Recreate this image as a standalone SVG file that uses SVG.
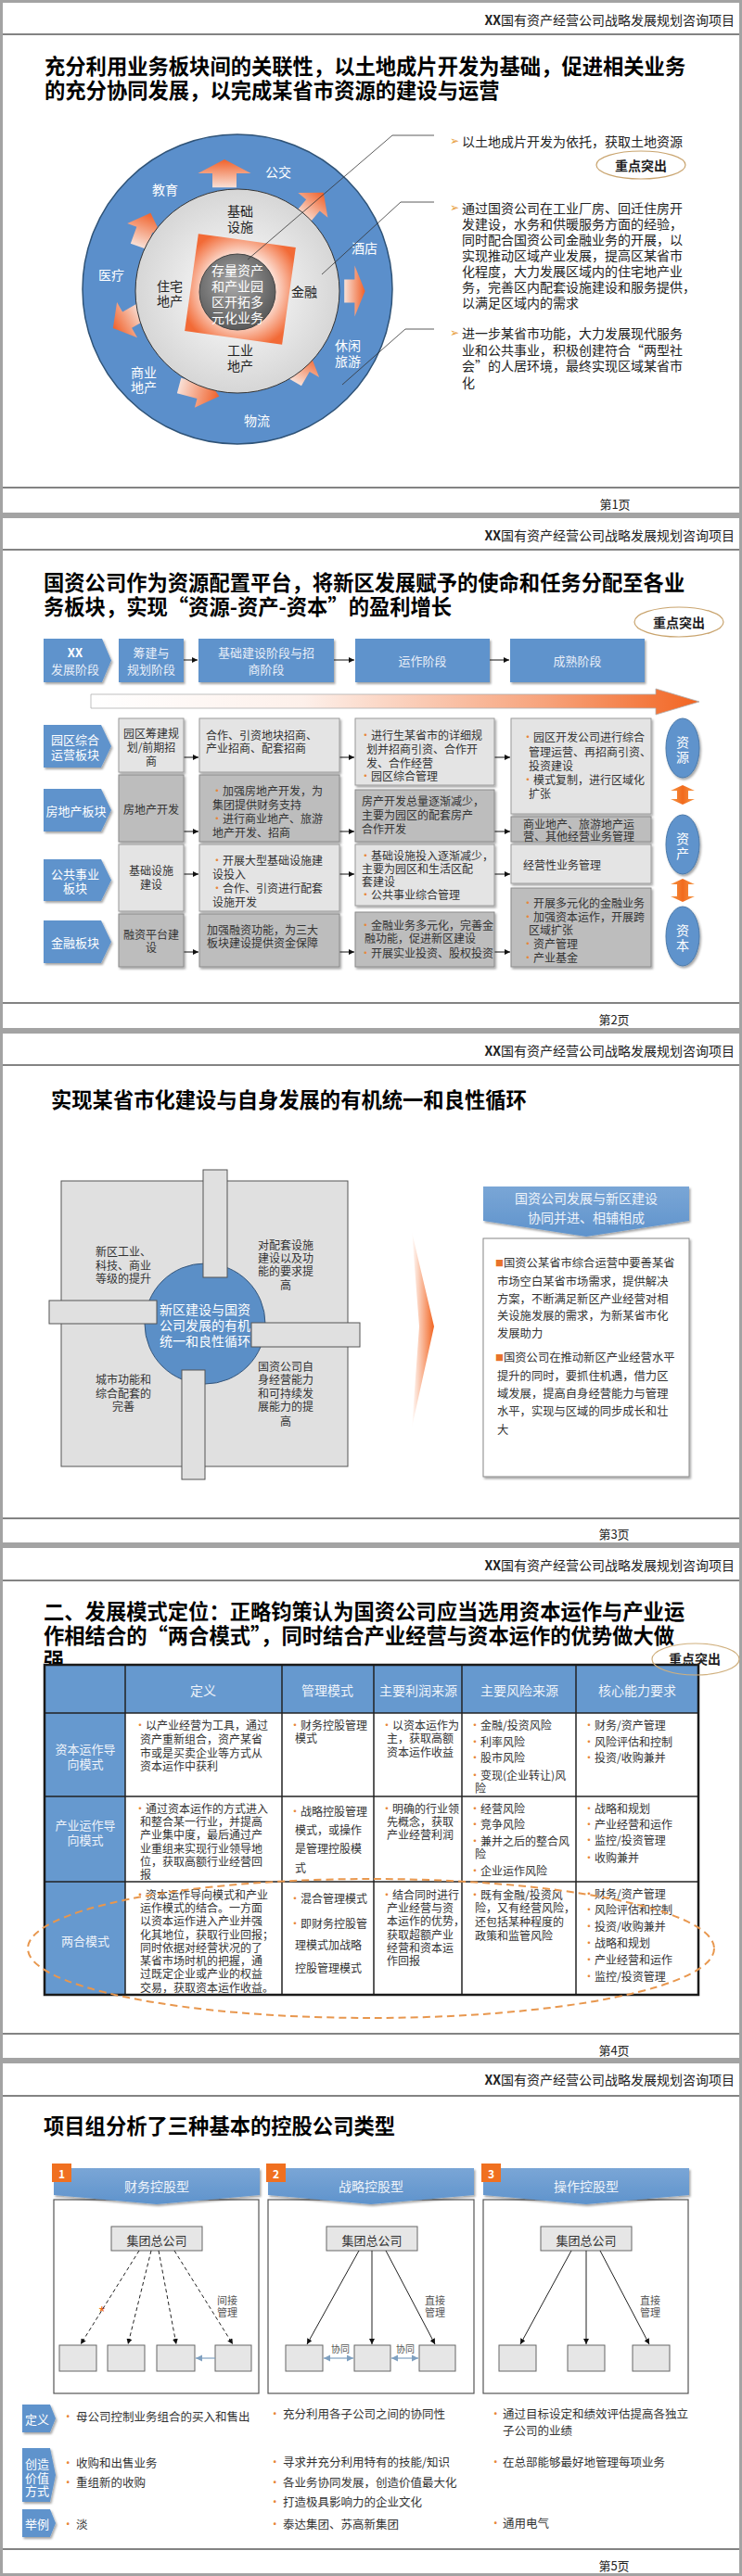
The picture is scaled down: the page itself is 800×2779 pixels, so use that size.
<svg xmlns="http://www.w3.org/2000/svg" width="800" height="2779" viewBox="0 0 800 2779">
<style>
text{font-family:"Noto Sans CJK SC","Liberation Sans",sans-serif;dominant-baseline:central}
.fr{fill:#fff;stroke:#a3a3a3;stroke-width:3}
.hl{stroke:#5a5a5a;stroke-width:1.5}
.hd{font-size:14px;fill:#222;text-anchor:end}
.ft{font-size:13px;fill:#222;text-anchor:middle}
.tt{font-size:22.3px;font-weight:700;fill:#000}
.c{text-anchor:middle}
.w{fill:#fff}
.k{fill:#222}
.f14{font-size:14px}
.f13{font-size:13px}
.f12{font-size:12px;fill:#333}
.f11{font-size:11px;fill:#555}
.bl{fill:#e8873a}
.blue{fill:#5f93cc}
.lb{fill:#e4e4e4;stroke:#9a9a9a;stroke-width:1;filter:url(#sh)}
.db{fill:#bdbdbd;stroke:#8a8a8a;stroke-width:1;filter:url(#sh)}
.ar{stroke:#111;stroke-width:1;marker-end:url(#ah)}
.key{fill:#fff;stroke:#c9a46e;stroke-width:1.2}
.tl{stroke:#222;stroke-width:1.5}
.con{fill:none;stroke:#333;stroke-width:0.8}
</style>
<defs>
<filter id="sh" x="-10%" y="-10%" width="125%" height="130%"><feDropShadow dx="1.5" dy="2" stdDeviation="1" flood-color="#000" flood-opacity="0.35"/></filter>
<marker id="ah" viewBox="0 0 10 10" refX="10" refY="5" markerWidth="6" markerHeight="6" orient="auto"><path d="M0,0 L10,5 L0,10 z" fill="#111"/></marker>
<marker id="ahb" viewBox="0 0 10 10" refX="10" refY="5" markerWidth="6" markerHeight="6" orient="auto-start-reverse"><path d="M0,0 L10,5 L0,10 z" fill="#7fa0c0"/></marker>
<radialGradient id="gIn" cx="0.5" cy="0.5" r="0.5"><stop offset="0" stop-color="#ffffff"/><stop offset="1" stop-color="#d6d6d6"/></radialGradient>
<radialGradient id="gCore" cx="0.45" cy="0.4" r="0.6"><stop offset="0" stop-color="#a8a8a8"/><stop offset="1" stop-color="#5a5a5a"/></radialGradient>
<radialGradient id="gSq" cx="0.5" cy="0.5" r="0.62"><stop offset="0.45" stop-color="#ffffff"/><stop offset="1" stop-color="#f26a36"/></radialGradient>
<linearGradient id="gArr" x1="0" y1="0" x2="1" y2="0"><stop offset="0" stop-color="#f9e0d6"/><stop offset="1" stop-color="#f0612a"/></linearGradient>
<linearGradient id="gBig" x1="0" y1="0" x2="1" y2="0"><stop offset="0" stop-color="#ffffff"/><stop offset="0.35" stop-color="#fdf0ea"/><stop offset="0.75" stop-color="#f7a27a"/><stop offset="1" stop-color="#f26522"/></linearGradient>
<linearGradient id="gDA" x1="0" y1="0" x2="1" y2="0"><stop offset="0" stop-color="#f59a4a"/><stop offset="0.5" stop-color="#f26a1c"/><stop offset="1" stop-color="#f59a4a"/></linearGradient>
<linearGradient id="gWedge" x1="0" y1="0" x2="1" y2="0"><stop offset="0" stop-color="#ffffff"/><stop offset="1" stop-color="#f26522"/></linearGradient>
<linearGradient id="gBan" x1="0" y1="0" x2="0" y2="1"><stop offset="0" stop-color="#7aa6d6"/><stop offset="1" stop-color="#5f93cc"/></linearGradient>
<path id="ba" d="M-14,-10 L2,-10 L2,-22 L18,0 L2,22 L2,10 L-14,10 Z"/>
</defs>

<!-- ============ SLIDE 1 ============ -->
<g id="slide1">
<rect class="fr" x="1.5" y="1.5" width="797" height="553"/>
<text class="hd" x="792" y="21"><tspan font-weight="700">XX</tspan>国有资产经营公司战略发展规划咨询项目</text>
<line class="hl" x1="3" y1="37" x2="797" y2="37"/>
<text class="tt" x="48" y="70">充分利用业务板块间的关联性，以土地成片开发为基础，促进相关业务</text>
<text class="tt" x="48" y="96">的充分协同发展，以完成某省市资源的建设与运营</text>
<line class="hl" x1="3" y1="526" x2="797" y2="526"/>
<text class="ft" x="663" y="543">第1页</text>

<g id="ring-outer">
<circle cx="256" cy="312" r="167" fill="#5b8fcb" stroke="#2f5377" stroke-width="1.5"/>
<text class="c w f14" x="300" y="185">公交</text>
<text class="c w f14" x="178" y="204">教育</text>
<text class="c w f14" x="393" y="267">酒店</text>
<text class="c w f14" x="120" y="296">医疗</text>
<text class="c w f14" x="375" y="372">休闲</text>
<text class="c w f14" x="375" y="389">旅游</text>
<text class="c w f14" x="155" y="401">商业</text>
<text class="c w f14" x="155" y="417">地产</text>
<text class="c w f14" x="277" y="453">物流</text>
</g>
<g id="ring-arrows" fill="url(#gArr)">
<use href="#ba" transform="translate(242,189) rotate(-90) scale(0.95,1.3)"/>
<use href="#ba" transform="translate(336,223) rotate(-50) scale(1.1,0.95)"/>
<use href="#ba" transform="translate(381,314) rotate(0) scale(0.7,1.25)"/>
<use href="#ba" transform="translate(324,398) rotate(-60) scale(1.1,1)"/>
<use href="#ba" transform="translate(212,421) rotate(15) scale(1.4,0.85)"/>
<use href="#ba" transform="translate(139,344) rotate(150) scale(1.1,1)"/>
<use href="#ba" transform="translate(155,250) rotate(-70) scale(1.2,0.9)"/>
</g>
<g id="ring-inner">
<circle cx="256" cy="314" r="110" fill="url(#gIn)" stroke="#333" stroke-width="1"/>
<rect x="206" y="259" width="106" height="106" fill="url(#gSq)" transform="rotate(8 259 312)"/>
<text class="c k f14" x="259" y="227">基础</text>
<text class="c k f14" x="259" y="244">设施</text>
<text class="c k f14" x="183" y="308">住宅</text>
<text class="c k f14" x="183" y="324">地产</text>
<text class="c k f14" x="328" y="314">金融</text>
<text class="c k f14" x="259" y="377">工业</text>
<text class="c k f14" x="259" y="394">地产</text>
</g>
<g id="core">
<circle cx="256" cy="315" r="41" fill="url(#gCore)" stroke="#444" stroke-width="1"/>
<text class="c w f14" x="256" y="291">存量资产</text>
<text class="c w f14" x="256" y="308">和产业园</text>
<text class="c w f14" x="256" y="325">区开拓多</text>
<text class="c w f14" x="256" y="342">元化业务</text>
</g>
<g id="s1-connectors">
<polyline class="con" points="267,280 423,146 468,146"/>
<polyline class="con" points="347,296 432,218 468,218"/>
<polyline class="con" points="369,415 437,355 468,355"/>
</g>
<g id="s1-text" class="f14">
<text x="485" y="152"><tspan font-family="DejaVu Sans" fill="#e8a040" font-size="12">➢</tspan></text>
<text class="k" x="498" y="152">以土地成片开发为依托，获取土地资源</text>
<text x="485" y="224"><tspan font-family="DejaVu Sans" fill="#e8a040" font-size="12">➢</tspan></text>
<text class="k" x="498" y="224">通过国资公司在工业厂房、回迁住房开</text>
<text class="k" x="498" y="241">发建设，水务和供暖服务方面的经验，</text>
<text class="k" x="498" y="258">同时配合国资公司金融业务的开展，以</text>
<text class="k" x="498" y="275">实现推动区域产业发展，提高区某省市</text>
<text class="k" x="498" y="292">化程度，大力发展区域内的住宅地产业</text>
<text class="k" x="498" y="309">务，完善区内配套设施建设和服务提供，</text>
<text class="k" x="498" y="326">以满足区域内的需求</text>
<text x="485" y="359"><tspan font-family="DejaVu Sans" fill="#e8a040" font-size="12">➢</tspan></text>
<text class="k" x="498" y="359">进一步某省市功能，大力发展现代服务</text>
<text class="k" x="498" y="377">业和公共事业，积极创建符合“两型社</text>
<text class="k" x="498" y="394">会”的人居环境，最终实现区域某省市</text>
<text class="k" x="498" y="412">化</text>
</g>
<g id="s1-key">
<ellipse class="key" cx="691" cy="178" rx="48" ry="15"/>
<text class="c k f14" x="691" y="178" font-weight="700">重点突出</text>
</g>
</g>

<!-- ============ SLIDE 2 ============ -->
<g id="slide2">
<rect class="fr" x="1.5" y="557.5" width="797" height="553"/>
<text class="hd" x="792" y="577"><tspan font-weight="700">XX</tspan>国有资产经营公司战略发展规划咨询项目</text>
<line class="hl" x1="3" y1="593" x2="797" y2="593"/>
<text class="tt" x="47" y="627">国资公司作为资源配置平台，将新区发展赋予的使命和任务分配至各业</text>
<text class="tt" x="47" y="653">务板块，实现“资源-资产-资本”的盈利增长</text>
<line class="hl" x1="3" y1="1082" x2="797" y2="1082"/>
<text class="ft" x="662" y="1099">第2页</text>
<g id="s2-key">
<ellipse class="key" cx="732" cy="671" rx="48" ry="16"/>
<text class="c k f14" x="732" y="671" font-weight="700">重点突出</text>
</g>

<g id="phases" class="f13">
<path d="M47,689 H110 L120,712.5 L110,736 H47 Z" class="blue" filter="url(#sh)"/>
<text class="c w" x="81" y="703" font-weight="700">XX</text>
<text class="c" x="81" y="721" fill="#e8eef8">发展阶段</text>
<rect x="128" y="689" width="70" height="47" class="blue" filter="url(#sh)"/>
<text class="c" x="163" y="703" fill="#e8eef8">筹建与</text>
<text class="c" x="163" y="721" fill="#e8eef8">规划阶段</text>
<rect x="214" y="689" width="146" height="47" class="blue" filter="url(#sh)"/>
<text class="c" x="287" y="703" fill="#e8eef8">基础建设阶段与招</text>
<text class="c" x="287" y="721" fill="#e8eef8">商阶段</text>
<rect x="383" y="689" width="145" height="47" class="blue" filter="url(#sh)"/>
<text class="c" x="455.5" y="712" fill="#e8eef8">运作阶段</text>
<rect x="550" y="689" width="145" height="47" class="blue" filter="url(#sh)"/>
<text class="c" x="622.5" y="712" fill="#e8eef8">成熟阶段</text>
</g>
<g id="s2-connectors">
<line class="ar" x1="198" y1="712" x2="213" y2="712"/>
<line class="ar" x1="360" y1="712" x2="382" y2="712"/>
<line class="ar" x1="528" y1="712" x2="549" y2="712"/>
<line class="ar" x1="198" y1="817" x2="214" y2="817"/>
<line class="ar" x1="366" y1="817" x2="382" y2="817"/>
<line class="ar" x1="533" y1="817" x2="550" y2="817"/>
<line class="ar" x1="198" y1="897" x2="214" y2="897"/>
<line class="ar" x1="366" y1="897" x2="382" y2="897"/>
<line class="ar" x1="533" y1="897" x2="550" y2="897"/>
<line class="ar" x1="198" y1="943" x2="214" y2="943"/>
<line class="ar" x1="366" y1="943" x2="382" y2="943"/>
<line class="ar" x1="533" y1="943" x2="550" y2="943"/>
<line class="ar" x1="198" y1="1027" x2="214" y2="1027"/>
<line class="ar" x1="366" y1="1027" x2="382" y2="1027"/>
<line class="ar" x1="533" y1="1027" x2="550" y2="1027"/>
</g>
<path id="timeline" d="M98,749 H707 V743 L754,757 L707,771 V764 H98 Z" fill="url(#gBig)" stroke="#b0b0b0" stroke-width="0.8"/>

<g id="row1">
<path d="M47,782 H109 L120,805 L109,828 H47 Z" class="blue" filter="url(#sh)"/>
<text class="c w f13" x="81" y="797">园区综合</text>
<text class="c w f13" x="81" y="813">运营板块</text>
<rect class="lb" x="128" y="775" width="70" height="58"/>
<text class="c f12" x="163" y="790">园区筹建规</text>
<text class="c f12" x="163" y="805">划/前期招</text>
<text class="c f12" x="163" y="820">商</text>
<rect class="lb" x="215" y="775" width="151" height="58"/>
<text class="f12" x="222" y="792">合作、引资地块招商、</text>
<text class="f12" x="222" y="806">产业招商、配套招商</text>
<rect class="lb" x="383" y="775" width="150" height="72"/>
<text class="f12" x="388" y="792"><tspan class="bl">•</tspan>进行生某省市的详细规</text>
<text class="f12" x="395" y="807">划并招商引资、合作开</text>
<text class="f12" x="395" y="822">发、合作经营</text>
<text class="f12" x="388" y="836"><tspan class="bl">•</tspan>园区综合管理</text>
<rect class="lb" x="551" y="775" width="151" height="103"/>
<text class="f12" x="563" y="794"><tspan class="bl">•</tspan>园区开发公司进行综合</text>
<text class="f12" x="570" y="810">管理运营、再招商引资、</text>
<text class="f12" x="570" y="825">投资建设</text>
<text class="f12" x="563" y="840"><tspan class="bl">•</tspan>模式复制，进行区域化</text>
<text class="f12" x="570" y="855">扩张</text>
</g>
<g id="row2">
<path d="M47,851 H109 L120,874 L109,897 H47 Z" class="blue" filter="url(#sh)"/>
<text class="c w f13" x="82" y="874">房地产板块</text>
<rect class="db" x="128" y="836" width="70" height="72"/>
<text class="c f12" x="163" y="872">房地产开发</text>
<rect class="db" x="215" y="836" width="151" height="72"/>
<text class="f12" x="228" y="852"><tspan class="bl">•</tspan>加强房地产开发，为</text>
<text class="f12" x="229" y="867">集团提供财务支持</text>
<text class="f12" x="228" y="882"><tspan class="bl">•</tspan>进行商业地产、旅游</text>
<text class="f12" x="229" y="897">地产开发、招商</text>
<rect class="db" x="383" y="852" width="150" height="56"/>
<text class="f12" x="390" y="863">房产开发总量逐渐减少，</text>
<text class="f12" x="390" y="878">主要为园区的配套房产</text>
<text class="f12" x="390" y="893">合作开发</text>
<rect class="db" x="551" y="881" width="151" height="27"/>
<text class="f12" x="564" y="888">商业地产、旅游地产运</text>
<text class="f12" x="564" y="901">营、其他经营业务管理</text>
</g>
<g id="row3">
<path d="M47,927 H109 L120,949.5 L109,972 H47 Z" class="blue" filter="url(#sh)"/>
<text class="c w f13" x="81" y="942">公共事业</text>
<text class="c w f13" x="81" y="957">板块</text>
<rect class="lb" x="128" y="911" width="70" height="72"/>
<text class="c f12" x="163" y="938">基础设施</text>
<text class="c f12" x="163" y="953">建设</text>
<rect class="lb" x="215" y="911" width="151" height="72"/>
<text class="f12" x="228" y="927"><tspan class="bl">•</tspan>开展大型基础设施建</text>
<text class="f12" x="229" y="942">设投入</text>
<text class="f12" x="228" y="957"><tspan class="bl">•</tspan>合作、引资进行配套</text>
<text class="f12" x="229" y="972">设施开发</text>
<rect class="lb" x="383" y="911" width="150" height="66"/>
<text class="f12" x="388" y="922"><tspan class="bl">•</tspan>基础设施投入逐渐减少，</text>
<text class="f12" x="390" y="936">主要为园区和生活区配</text>
<text class="f12" x="390" y="950">套建设</text>
<text class="f12" x="388" y="964"><tspan class="bl">•</tspan>公共事业综合管理</text>
<rect class="lb" x="551" y="911" width="151" height="42"/>
<text class="f12" x="564" y="932">经营性业务管理</text>
</g>
<g id="row4">
<path d="M47,993 H109 L120,1016 L109,1039 H47 Z" class="blue" filter="url(#sh)"/>
<text class="c w f13" x="81" y="1016">金融板块</text>
<rect class="db" x="128" y="986" width="70" height="57"/>
<text class="c f12" x="163" y="1007">融资平台建</text>
<text class="c f12" x="163" y="1021">设</text>
<rect class="db" x="215" y="986" width="151" height="57"/>
<text class="f12" x="223" y="1002">加强融资功能，为三大</text>
<text class="f12" x="223" y="1016">板块建设提供资金保障</text>
<rect class="db" x="383" y="984" width="150" height="59"/>
<text class="f12" x="388" y="997"><tspan class="bl">•</tspan>金融业务多元化，完善金</text>
<text class="f12" x="393" y="1011">融功能，促进新区建设</text>
<text class="f12" x="388" y="1027"><tspan class="bl">•</tspan>开展实业投资、股权投资</text>
<rect class="db" x="551" y="958" width="151" height="85"/>
<text class="f12" x="563" y="973"><tspan class="bl">•</tspan>开展多元化的金融业务</text>
<text class="f12" x="563" y="988"><tspan class="bl">•</tspan>加强资本运作，开展跨</text>
<text class="f12" x="570" y="1002">区域扩张</text>
<text class="f12" x="563" y="1017"><tspan class="bl">•</tspan>资产管理</text>
<text class="f12" x="563" y="1032"><tspan class="bl">•</tspan>产业基金</text>
</g>
<g id="capital">
<ellipse cx="736" cy="807" rx="18" ry="32" class="blue" stroke="#4a78a8" filter="url(#sh)"/>
<text class="c w f14" x="736" y="800">资</text>
<text class="c w f14" x="736" y="816">源</text>
<path d="M723,853 L736,847 L749,853 H742 V862 H749 L736,868 L723,862 H730 V853 Z" fill="url(#gDA)"/>
<ellipse cx="736" cy="911" rx="18" ry="32" class="blue" stroke="#4a78a8" filter="url(#sh)"/>
<text class="c w f14" x="736" y="904">资</text>
<text class="c w f14" x="736" y="920">产</text>
<path d="M723,954 L736,948 L749,954 H742 V967 H749 L736,973 L723,967 H730 V954 Z" fill="url(#gDA)"/>
<ellipse cx="736" cy="1010" rx="18" ry="32" class="blue" stroke="#4a78a8" filter="url(#sh)"/>
<text class="c w f14" x="736" y="1003">资</text>
<text class="c w f14" x="736" y="1019">本</text>
</g>
</g>

<!-- ============ SLIDE 3 ============ -->
<g id="slide3">
<rect class="fr" x="1.5" y="1113.5" width="797" height="552"/>
<text class="hd" x="792" y="1133"><tspan font-weight="700">XX</tspan>国有资产经营公司战略发展规划咨询项目</text>
<line class="hl" x1="3" y1="1149" x2="797" y2="1149"/>
<text class="tt" x="55" y="1185">实现某省市化建设与自身发展的有机统一和良性循环</text>
<line class="hl" x1="3" y1="1638" x2="797" y2="1638"/>
<text class="ft" x="662" y="1654">第3页</text>
<g id="cycle">
<rect x="66" y="1274" width="309" height="308" fill="#e0e0e0" stroke="#555" stroke-width="1"/>
<circle cx="221" cy="1428" r="65" fill="#5b8fc7" stroke="#34557a" stroke-width="1"/>
<rect x="219" y="1262" width="26" height="116" fill="#e0e0e0" stroke="#555" stroke-width="1"/>
<rect x="53" y="1403" width="116" height="25" fill="#e0e0e0" stroke="#555" stroke-width="1"/>
<rect x="271" y="1427" width="117" height="26" fill="#e0e0e0" stroke="#555" stroke-width="1"/>
<rect x="196" y="1478" width="25" height="118" fill="#e0e0e0" stroke="#555" stroke-width="1"/>
<text class="c w f14" x="221" y="1412">新区建设与国资</text>
<text class="c w f14" x="221" y="1429">公司发展的有机</text>
<text class="c w f14" x="221" y="1446">统一和良性循环</text>
<g class="f12" fill="#444">
<text class="c f12" x="133" y="1349">新区工业、</text>
<text class="c f12" x="133" y="1364">科技、商业</text>
<text class="c f12" x="133" y="1378">等级的提升</text>
<text class="c f12" x="308" y="1342">对配套设施</text>
<text class="c f12" x="308" y="1356">建设以及功</text>
<text class="c f12" x="308" y="1370">能的要求提</text>
<text class="c f12" x="308" y="1385">高</text>
<text class="c f12" x="133" y="1487">城市功能和</text>
<text class="c f12" x="133" y="1502">综合配套的</text>
<text class="c f12" x="133" y="1516">完善</text>
<text class="c f12" x="308" y="1473">国资公司自</text>
<text class="c f12" x="308" y="1487">身经营能力</text>
<text class="c f12" x="308" y="1502">和可持续发</text>
<text class="c f12" x="308" y="1516">展能力的提</text>
<text class="c f12" x="308" y="1532">高</text>
</g>
</g>
<path id="wedge" d="M444,1329 L468,1431 L444,1540 L452,1431 Z" fill="url(#gWedge)"/>
<g id="s3-banner">
<path d="M521,1280 H743 V1317 L632,1334 L521,1317 Z" fill="url(#gBan)" filter="url(#sh)"/>
<text class="c f14" x="632" y="1292" fill="#eef3fa">国资公司发展与新区建设</text>
<text class="c f14" x="632" y="1313" fill="#eef3fa">协同并进、相辅相成</text>
</g>
<g id="s3-box">
<rect x="521" y="1336" width="222" height="257" fill="#fff" stroke="#888" stroke-width="1" filter="url(#sh)"/>
<g font-size="12.3" fill="#333">
<text x="534" y="1362"><tspan fill="#e8732a" font-size="9">■</tspan>国资公某省市综合运营中要善某省</text>
<text x="536" y="1382">市场空白某省市场需求，提供解决</text>
<text x="536" y="1401">方案，不断满足新区产业经营对相</text>
<text x="536" y="1419">关设施发展的需求，为新某省市化</text>
<text x="536" y="1438">发展助力</text>
<text x="534" y="1464"><tspan fill="#e8732a" font-size="9">■</tspan>国资公司在推动新区产业经营水平</text>
<text x="536" y="1484">提升的同时，要抓住机遇，借力区</text>
<text x="536" y="1503">域发展，提高自身经营能力与管理</text>
<text x="536" y="1522">水平，实现与区域的同步成长和壮</text>
<text x="536" y="1542">大</text>
</g>
</g>
</g>

<!-- ============ SLIDE 4 ============ -->
<g id="slide4">
<rect class="fr" x="1.5" y="1668.5" width="797" height="553"/>
<text class="hd" x="792" y="1688"><tspan font-weight="700">XX</tspan>国有资产经营公司战略发展规划咨询项目</text>
<line class="hl" x1="3" y1="1705" x2="797" y2="1705"/>
<text class="tt" x="47" y="1737" font-size="22.6">二、发展模式定位：正略钧策认为国资公司应当选用资本运作与产业运</text>
<text class="tt" x="47" y="1763" font-size="22.6">作相结合的“两合模式”，同时结合产业经营与资本运作的优势做大做</text>
<text class="tt" x="47" y="1789" font-size="22.6">强</text>
<line class="hl" x1="3" y1="2194" x2="797" y2="2194"/>
<text class="ft" x="662" y="2211">第4页</text>
<g id="table">
<rect x="48" y="1796" width="705" height="356" fill="#fff"/>
<rect x="48" y="1796" width="705" height="52" fill="#6699cf"/>
<rect x="48" y="1848" width="87" height="304" fill="#6699cf"/>
<line class="tl" x1="48" y1="1848" x2="753" y2="1848"/>
<line class="tl" x1="48" y1="1938" x2="753" y2="1938"/>
<line class="tl" x1="48" y1="2030" x2="753" y2="2030"/>
<line class="tl" x1="135" y1="1796" x2="135" y2="2152"/>
<line class="tl" x1="304" y1="1796" x2="304" y2="2152"/>
<line class="tl" x1="403" y1="1796" x2="403" y2="2152"/>
<line class="tl" x1="498" y1="1796" x2="498" y2="2152"/>
<line class="tl" x1="621" y1="1796" x2="621" y2="2152"/>
<rect x="48" y="1796" width="705" height="356" fill="none" stroke="#1a1a1a" stroke-width="2.5"/>
<g class="f14" fill="#eef3fa">
<text class="c" x="219" y="1823">定义</text>
<text class="c" x="353" y="1823">管理模式</text>
<text class="c" x="451" y="1823">主要利润来源</text>
<text class="c" x="560" y="1823">主要风险来源</text>
<text class="c" x="687" y="1823">核心能力要求</text>
</g>
<g font-size="13" fill="#eef3fa">
<text class="c" x="92" y="1886">资本运作导</text>
<text class="c" x="92" y="1902">向模式</text>
<text class="c" x="92" y="1968">产业运作导</text>
<text class="c" x="92" y="1984">向模式</text>
<text class="c" x="92" y="2093">两合模式</text>
</g>
<g class="f12">
<text class="f12" x="145" y="1860"><tspan class="bl">•</tspan>以产业经营为工具，通过</text>
<text class="f12" x="151" y="1875">资产重新组合，资产某省</text>
<text class="f12" x="151" y="1890">市或是买卖企业等方式从</text>
<text class="f12" x="151" y="1904">资本运作中获利</text>
<text class="f12" x="312" y="1860"><tspan class="bl">•</tspan>财务控股管理</text>
<text class="f12" x="318" y="1874">模式</text>
<text class="f12" x="411" y="1860"><tspan class="bl">•</tspan>以资本运作为</text>
<text class="f12" x="417" y="1874">主，获取高额</text>
<text class="f12" x="417" y="1889">资本运作收益</text>
<text class="f12" x="506" y="1860"><tspan class="bl">•</tspan>金融/投资风险</text>
<text class="f12" x="506" y="1878"><tspan class="bl">•</tspan>利率风险</text>
<text class="f12" x="506" y="1895"><tspan class="bl">•</tspan>股市风险</text>
<text class="f12" x="506" y="1914"><tspan class="bl">•</tspan>变现(企业转让)风</text>
<text class="f12" x="512" y="1928">险</text>
<text class="f12" x="629" y="1860"><tspan class="bl">•</tspan>财务/资产管理</text>
<text class="f12" x="629" y="1878"><tspan class="bl">•</tspan>风险评估和控制</text>
<text class="f12" x="629" y="1895"><tspan class="bl">•</tspan>投资/收购兼并</text>

<text class="f12" x="145" y="1950"><tspan class="bl">•</tspan>通过资本运作的方式进入</text>
<text class="f12" x="151" y="1964">和整合某一行业，并提高</text>
<text class="f12" x="151" y="1978">产业集中度，最后通过产</text>
<text class="f12" x="151" y="1993">业重组来实现行业领导地</text>
<text class="f12" x="151" y="2007">位，获取高额行业经营回</text>
<text class="f12" x="151" y="2021">报</text>
<text class="f12" x="312" y="1953"><tspan class="bl">•</tspan>战略控股管理</text>
<text class="f12" x="318" y="1973">模式，或操作</text>
<text class="f12" x="318" y="1993">是管理控股模</text>
<text class="f12" x="318" y="2014">式</text>
<text class="f12" x="411" y="1950"><tspan class="bl">•</tspan>明确的行业领</text>
<text class="f12" x="417" y="1964">先概念，获取</text>
<text class="f12" x="417" y="1978">产业经营利润</text>
<text class="f12" x="506" y="1950"><tspan class="bl">•</tspan>经营风险</text>
<text class="f12" x="506" y="1967"><tspan class="bl">•</tspan>竞争风险</text>
<text class="f12" x="506" y="1985"><tspan class="bl">•</tspan>兼并之后的整合风</text>
<text class="f12" x="512" y="1999">险</text>
<text class="f12" x="506" y="2017"><tspan class="bl">•</tspan>企业运作风险</text>
<text class="f12" x="629" y="1950"><tspan class="bl">•</tspan>战略和规划</text>
<text class="f12" x="629" y="1967"><tspan class="bl">•</tspan>产业经营和运作</text>
<text class="f12" x="629" y="1984"><tspan class="bl">•</tspan>监控/投资管理</text>
<text class="f12" x="629" y="2003"><tspan class="bl">•</tspan>收购兼并</text>

<text class="f12" x="145" y="2043"><tspan class="bl">•</tspan>资本运作导向模式和产业</text>
<text class="f12" x="151" y="2057">运作模式的结合。一方面</text>
<text class="f12" x="151" y="2071">以资本运作进入产业并强</text>
<text class="f12" x="151" y="2086">化其地位，获取行业回报；</text>
<text class="f12" x="151" y="2100">同时依据对经营状况的了</text>
<text class="f12" x="151" y="2114">某省市场时机的把握，通</text>
<text class="f12" x="151" y="2128">过既定企业或产业的权益</text>
<text class="f12" x="151" y="2143">交易，获取资本运作收益。</text>
<text class="f12" x="312" y="2047"><tspan class="bl">•</tspan>混合管理模式</text>
<text class="f12" x="312" y="2074"><tspan class="bl">•</tspan>即财务控股管</text>
<text class="f12" x="318" y="2097">理模式加战略</text>
<text class="f12" x="318" y="2122">控股管理模式</text>
<text class="f12" x="411" y="2043"><tspan class="bl">•</tspan>结合同时进行</text>
<text class="f12" x="417" y="2057">产业经营与资</text>
<text class="f12" x="417" y="2071">本运作的优势，</text>
<text class="f12" x="417" y="2086">获取超额产业</text>
<text class="f12" x="417" y="2100">经营和资本运</text>
<text class="f12" x="417" y="2114">作回报</text>
<text class="f12" x="506" y="2043"><tspan class="bl">•</tspan>既有金融/投资风</text>
<text class="f12" x="512" y="2057">险，又有经营风险，</text>
<text class="f12" x="512" y="2072">还包括某种程度的</text>
<text class="f12" x="512" y="2087">政策和监管风险</text>
<text class="f12" x="629" y="2042"><tspan class="bl">•</tspan>财务/资产管理</text>
<text class="f12" x="629" y="2059"><tspan class="bl">•</tspan>风险评估和控制</text>
<text class="f12" x="629" y="2077"><tspan class="bl">•</tspan>投资/收购兼并</text>
<text class="f12" x="629" y="2095"><tspan class="bl">•</tspan>战略和规划</text>
<text class="f12" x="629" y="2113"><tspan class="bl">•</tspan>产业经营和运作</text>
<text class="f12" x="629" y="2131"><tspan class="bl">•</tspan>监控/投资管理</text>
</g>
</g>
<ellipse id="highlight" cx="400" cy="2102" rx="370" ry="75" fill="none" stroke="#e8974e" stroke-width="2" stroke-dasharray="8 5"/>
<g id="s4-key">
<ellipse cx="750" cy="1790" rx="47" ry="17" fill="none" stroke="#d0b07e" stroke-width="1.2"/>
<text class="c k f14" x="749" y="1789" font-weight="700">重点突出</text>
</g>
</g>

<!-- ============ SLIDE 5 ============ -->
<g id="slide5">
<rect class="fr" x="1.5" y="2224.5" width="797" height="553"/>
<text class="hd" x="792" y="2243"><tspan font-weight="700">XX</tspan>国有资产经营公司战略发展规划咨询项目</text>
<line class="hl" x1="3" y1="2261" x2="797" y2="2261"/>
<text class="tt" x="47" y="2292">项目组分析了三种基本的控股公司类型</text>
<line class="hl" x1="3" y1="2750" x2="797" y2="2750"/>
<text class="ft" x="662" y="2767">第5页</text>

<g id="panel1">
<rect x="58" y="2373" width="221" height="209" fill="#fff" stroke="#555" stroke-width="1.2"/>
<path d="M58,2339 H280 V2368 L169,2378 L58,2368 Z" fill="url(#gBan)" filter="url(#sh)"/>
<rect x="56" y="2334" width="21" height="20" fill="#f07020"/>
<text class="c w" x="66.5" y="2344" font-size="12" font-weight="700">1</text>
<text class="c f14" x="169" y="2358" fill="#eef3fa">财务控股型</text>
<rect x="120" y="2402" width="98" height="26" fill="#e6e6e6" stroke="#666" stroke-width="1"/>
<text class="c f13" x="169" y="2416" fill="#333">集团总公司</text>
<rect x="64" y="2530" width="40" height="28" fill="#e6e6e6" stroke="#666"/>
<rect x="116" y="2530" width="40" height="28" fill="#e6e6e6" stroke="#666"/>
<rect x="169" y="2530" width="41" height="28" fill="#e6e6e6" stroke="#666"/>
<rect x="232" y="2530" width="39" height="28" fill="#e6e6e6" stroke="#666"/>
<text class="c" x="110" y="2494" font-size="18" fill="#f07020">*</text>
<text class="c f11" x="245" y="2481">间接</text>
<text class="c f11" x="245" y="2494">管理</text>
</g>
<g id="panel2">
<rect x="289" y="2373" width="222" height="209" fill="#fff" stroke="#555" stroke-width="1.2"/>
<path d="M289,2339 H511 V2368 L400,2378 L289,2368 Z" fill="url(#gBan)" filter="url(#sh)"/>
<rect x="287" y="2334" width="21" height="20" fill="#f07020"/>
<text class="c w" x="297.5" y="2344" font-size="12" font-weight="700">2</text>
<text class="c f14" x="400" y="2358" fill="#eef3fa">战略控股型</text>
<rect x="352" y="2402" width="98" height="26" fill="#e6e6e6" stroke="#666" stroke-width="1"/>
<text class="c f13" x="401" y="2416" fill="#333">集团总公司</text>
<rect x="308" y="2530" width="40" height="28" fill="#e6e6e6" stroke="#666"/>
<rect x="382" y="2530" width="39" height="28" fill="#e6e6e6" stroke="#666"/>
<rect x="452" y="2530" width="39" height="28" fill="#e6e6e6" stroke="#666"/>
<text class="c f11" x="469" y="2481">直接</text>
<text class="c f11" x="469" y="2494">管理</text>
<text class="c" x="367" y="2533" font-size="10" fill="#555">协同</text>
<text class="c" x="437" y="2533" font-size="10" fill="#555">协同</text>
</g>
<g id="panel3">
<rect x="521" y="2373" width="221" height="209" fill="#fff" stroke="#555" stroke-width="1.2"/>
<path d="M521,2339 H743 V2368 L632,2378 L521,2368 Z" fill="url(#gBan)" filter="url(#sh)"/>
<rect x="519" y="2334" width="21" height="20" fill="#f07020"/>
<text class="c w" x="529.5" y="2344" font-size="12" font-weight="700">3</text>
<text class="c f14" x="632" y="2358" fill="#eef3fa">操作控股型</text>
<rect x="583" y="2402" width="98" height="26" fill="#e6e6e6" stroke="#666" stroke-width="1"/>
<text class="c f13" x="632" y="2416" fill="#333">集团总公司</text>
<rect x="538" y="2530" width="40" height="28" fill="#e6e6e6" stroke="#666"/>
<rect x="612" y="2530" width="40" height="28" fill="#e6e6e6" stroke="#666"/>
<rect x="682" y="2530" width="40" height="28" fill="#e6e6e6" stroke="#666"/>
<text class="c f11" x="701" y="2481">直接</text>
<text class="c f11" x="701" y="2494">管理</text>
</g>
<g id="s5-connectors" fill="none">
<line x1="150" y1="2428" x2="87" y2="2529" stroke="#222" stroke-dasharray="4 3" marker-end="url(#ah)"/>
<line x1="163" y1="2428" x2="138" y2="2529" stroke="#222" stroke-dasharray="4 3" marker-end="url(#ah)"/>
<line x1="171" y1="2428" x2="190" y2="2529" stroke="#222" stroke-dasharray="4 3" marker-end="url(#ah)"/>
<line x1="188" y1="2428" x2="251" y2="2529" stroke="#222" stroke-dasharray="4 3" marker-end="url(#ah)"/>
<line x1="232" y1="2544" x2="211" y2="2544" stroke="#7fa0c0" stroke-width="1.2" marker-end="url(#ahb)"/>
<line x1="387" y1="2428" x2="331" y2="2529" stroke="#222" marker-end="url(#ah)"/>
<line x1="401" y1="2428" x2="401" y2="2529" stroke="#222" marker-end="url(#ah)"/>
<line x1="416" y1="2428" x2="469" y2="2529" stroke="#222" marker-end="url(#ah)"/>
<line x1="349" y1="2544" x2="381" y2="2544" stroke="#7fa0c0" stroke-width="1.2" marker-start="url(#ahb)" marker-end="url(#ahb)"/>
<line x1="422" y1="2544" x2="451" y2="2544" stroke="#7fa0c0" stroke-width="1.2" marker-start="url(#ahb)" marker-end="url(#ahb)"/>
<line x1="616" y1="2428" x2="561" y2="2529" stroke="#222" marker-end="url(#ah)"/>
<line x1="632" y1="2428" x2="632" y2="2529" stroke="#222" marker-end="url(#ah)"/>
<line x1="647" y1="2428" x2="700" y2="2529" stroke="#222" marker-end="url(#ah)"/>
</g>
<g id="s5-labels">
<path d="M24,2594 H54 L60,2609 L54,2624 H24 Z" class="blue" filter="url(#sh)"/>
<text class="c w f13" x="40" y="2609">定义</text>
<path d="M24,2641 H54 L60,2670 L54,2699 H24 Z" class="blue" filter="url(#sh)"/>
<text class="c w f13" x="40" y="2657">创造</text>
<text class="c w f13" x="40" y="2672">价值</text>
<text class="c w f13" x="40" y="2686">方式</text>
<path d="M24,2707 H54 L60,2722 L54,2737 H24 Z" class="blue" filter="url(#sh)"/>
<text class="c w f13" x="40" y="2722">举例</text>
</g>
<g id="s5-text" font-size="12.5" fill="#333">
<text x="67" y="2606"><tspan class="bl">•</tspan></text><text x="82" y="2606">母公司控制业务组合的买入和售出</text>
<text x="290" y="2603"><tspan class="bl">•</tspan></text><text x="305" y="2603">充分利用各子公司之间的协同性</text>
<text x="528" y="2603"><tspan class="bl">•</tspan></text><text x="542" y="2603">通过目标设定和绩效评估提高各独立</text>
<text x="542" y="2621">子公司的业绩</text>
<text x="67" y="2656"><tspan class="bl">•</tspan></text><text x="82" y="2656">收购和出售业务</text>
<text x="67" y="2677"><tspan class="bl">•</tspan></text><text x="82" y="2677">重组新的收购</text>
<text x="290" y="2655"><tspan class="bl">•</tspan></text><text x="305" y="2655">寻求并充分利用特有的技能/知识</text>
<text x="290" y="2677"><tspan class="bl">•</tspan></text><text x="305" y="2677">各业务协同发展，创造价值最大化</text>
<text x="290" y="2698"><tspan class="bl">•</tspan></text><text x="305" y="2698">打造极具影响力的企业文化</text>
<text x="528" y="2655"><tspan class="bl">•</tspan></text><text x="542" y="2655">在总部能够最好地管理每项业务</text>
<text x="67" y="2722"><tspan class="bl">•</tspan></text><text x="82" y="2722">淡</text>
<text x="290" y="2722"><tspan class="bl">•</tspan></text><text x="305" y="2722">泰达集团、苏高新集团</text>
<text x="528" y="2721"><tspan class="bl">•</tspan></text><text x="542" y="2721">通用电气</text>
</g>
</g>
</svg>
